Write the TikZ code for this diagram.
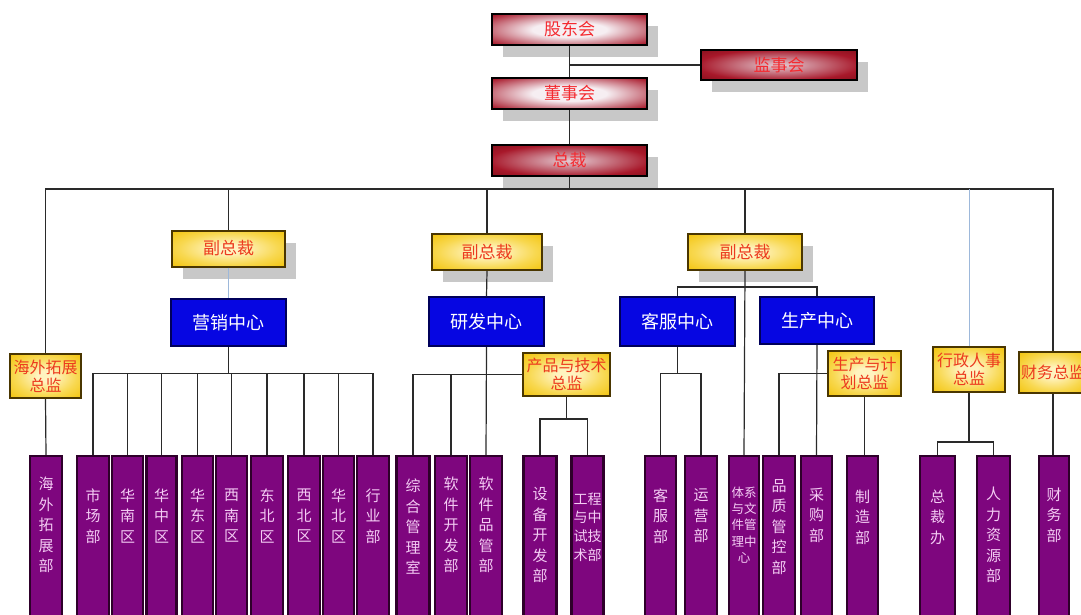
\documentclass[tikz,border=0pt]{standalone}
\usepackage{fontspec}
\newfontfamily\cjk{Noto Sans CJK SC}
\usetikzlibrary{shadows,calc}
\definecolor{dred}{HTML}{6E0A12}
\definecolor{mred}{HTML}{A8182A}
\definecolor{tpale}{HTML}{F6EEF2}
\definecolor{tmid}{HTML}{E4CCD4}
\definecolor{topred}{HTML}{F42A30}
\definecolor{shgray}{HTML}{C8C8C8}
\definecolor{ygold}{HTML}{F2C000}
\definecolor{ymid}{HTML}{F8D850}
\definecolor{ylight}{HTML}{FFF3C0}
\definecolor{ybord}{HTML}{4A3600}
\definecolor{ytxt}{HTML}{EC3A1E}
\definecolor{bfill}{HTML}{0606E2}
\definecolor{bbord}{HTML}{00005A}
\definecolor{pfill}{HTML}{7E067E}
\definecolor{pbord}{HTML}{2E002A}
\definecolor{ptxt}{HTML}{F4CCF4}
\definecolor{linec}{HTML}{2A2A2A}
\definecolor{lblue}{HTML}{9DB8DA}
\pgfdeclareradialshading{topsha}{\pgfpoint{0bp}{0bp}}{color(0bp)=(tpale); color(12bp)=(tpale); color(34bp)=(mred); color(46bp)=(dred); color(75bp)=(dred)}
\pgfdeclareradialshading{topshb}{\pgfpoint{0bp}{0bp}}{color(0bp)=(tmid); color(26bp)=(mred); color(44bp)=(dred); color(75bp)=(dred)}
\pgfdeclareradialshading{yelsh}{\pgfpoint{0bp}{0bp}}{color(0bp)=(ylight); color(6bp)=(ylight); color(22bp)=(ymid); color(38bp)=(ygold); color(75bp)=(ygold)}
\newcommand\purplebox[6][]{%
  \node[pbox, minimum width=#4pt] (#2) at (#3,541) {};
  \node[ptext,#1] (#2t) at (#3,#5) {#6};}
\begin{document}
\begin{tikzpicture}[x=1pt,y=-1pt,
  conn/.style={draw=linec, line width=1.2pt},
  lconn/.style={draw=lblue, line width=1pt},
  shad/.style={drop shadow={shadow xshift=11pt,shadow yshift=-12pt,fill=shgray,opacity=1}},
  topbox/.style={shad, draw=black, line width=2pt, minimum width=155pt, minimum height=31pt,
    inner sep=0pt, shade, shading=#1, text=topred,
    font=\cjk\fontsize{17}{17}\selectfont},
  topbox/.default=topsha,
  vpbox/.style={shad, draw=ybord, line width=2pt, minimum width=113pt, minimum height=36pt,
    inner sep=0pt, shade, shading=yelsh, text=ytxt,
    font=\cjk\fontsize{17}{17}\selectfont},
  dirbox/.style={draw=ybord, line width=2pt, inner sep=0pt, shade, shading=yelsh,
    text=ytxt, align=center, font=\cjk\fontsize{16}{18}\selectfont},
  cbox/.style={draw=bbord, fill=bfill, line width=1.5pt, minimum width=115pt, minimum height=47pt,
    inner sep=0pt, text=white, font=\cjk\fontsize{18}{18}\selectfont},
  pbox/.style={draw=pbord, fill=pfill, line width=2.5pt, minimum height=170pt, inner sep=0pt},
  ptext/.style={text=ptxt, align=center, inner sep=0pt, font=\cjk\fontsize{15}{20.5}\selectfont}
]
\useasboundingbox (0,0) rectangle (1081,614);
\clip (0,0) rectangle (1081,614);
\fill[white] (0,0) rectangle (1081,614);

% top level
\node[topbox] (gd) at (569.5,29.5) {股东会};
\node[topbox=topshb, minimum width=156pt, minimum height=30pt] (js) at (779,65) {监事会};
\node[topbox] (ds) at (569.5,93.5) {董事会};
\node[topbox=topshb] (zc) at (569.5,160.5) {总裁};

% vice presidents
\node[vpbox] (vp1) at (228.5,248.5) {副总裁};
\node[vpbox, minimum width=110pt] (vp2) at (487,252) {副总裁};
\node[vpbox, minimum width=114pt] (vp3) at (745,252) {副总裁};

% centres
\node[cbox] (yx) at (228.5,322.5) {营销中心};
\node[cbox, minimum height=49pt] (yf) at (486.5,321.5) {研发中心};
\node[cbox, minimum height=49pt] (kf) at (677.5,321.5) {客服中心};
\node[cbox, minimum width=114pt] (sc) at (817,320.5) {生产中心};

% directors
\node[dirbox, minimum width=71pt, minimum height=44pt] (hw) at (45.5,376) {海外拓展\\总监};
\node[dirbox, minimum width=87pt, minimum height=43pt] (pt) at (566.5,374.5) {产品与技术\\总监};
\node[dirbox, minimum width=73pt, minimum height=45pt] (sp) at (864.5,373.5) {生产与计\\划总监};
\node[dirbox, minimum width=72pt, minimum height=45pt] (hr) at (969,369.5) {行政人事\\总监};
\node[dirbox, minimum width=68pt, minimum height=41pt] (cw) at (1053,372.5) {财务总监};

% departments
\purplebox{hwb}{46}{32}{525}{海\\外\\拓\\展\\部}
\purplebox{scb}{93}{32}{516}{市\\场\\部}
\purplebox{hn}{127.5}{31}{516}{华\\南\\区}
\purplebox{hz}{161.5}{30}{516}{华\\中\\区}
\purplebox{hd}{197.5}{31}{516}{华\\东\\区}
\purplebox{xn}{231.5}{31}{516}{西\\南\\区}
\purplebox{db}{267}{32}{516}{东\\北\\区}
\purplebox{xb}{304}{32}{516}{西\\北\\区}
\purplebox{hb}{338.5}{31}{516}{华\\北\\区}
\purplebox{hy}{373}{32}{516}{行\\业\\部}
\purplebox{zh}{413}{33}{527}{综\\合\\管\\理\\室}
\purplebox{rk}{451}{32}{525}{软\\件\\开\\发\\部}
\purplebox{rp}{486}{32}{525}{软\\件\\品\\管\\部}
\purplebox{sb}{540}{33}{535}{设\\备\\开\\发\\部}
\purplebox[font=\cjk\fontsize{14}{18.7}\selectfont]{gc}{587.5}{32}{527}{工程\\与中\\试技\\术部}
\purplebox{kfb}{660.5}{31}{516}{客\\服\\部}
\purplebox{yy}{701}{32}{516}{运\\营\\部}
\purplebox[font=\cjk\fontsize{12.5}{16.2}\selectfont]{tx}{744}{30}{525}{体系\\与文\\件管\\理中\\心}
\purplebox{pz}{779}{32}{527}{品\\质\\管\\控\\部}
\purplebox{cg}{816.5}{31}{515}{采\\购\\部}
\purplebox{zz}{862.5}{31}{517}{制\\造\\部}
\purplebox{zcb}{937.5}{35}{517}{总\\裁\\办}
\purplebox{rl}{993.5}{33}{535}{人\\力\\资\\源\\部}
\purplebox{cwb}{1054}{30}{515}{财\\务\\部}

% connectors: top
\draw[conn] (gd.south) -- (ds.north);
\draw[conn] (ds.south) -- (zc.north);
\draw[conn] (gd.south |- js.west) -- (js.west);
\draw[conn] (zc.south) -- ++(0,12) coordinate (bus);
\draw[conn] (hw.north) |- (bus) -| (cw.north);
\draw[conn] (vp1.north) -- (vp1.north |- bus);
\draw[conn] (vp2.north) -- (vp2.north |- bus);
\draw[conn] (vp3.north) -- (vp3.north |- bus);
\draw[lconn] (hr.north) -- (hr.north |- bus);

% vice presidents to centres
\draw[lconn] (vp1.south) -- (yx.north);
\draw[conn] (vp2.south) -- (yf.north);
\coordinate (v3j) at ($(vp3.south)+(0,16)$);
\draw[conn] (kf.north) |- (v3j) -| (sc.north);
\draw[conn] (vp3.south) -- (tx.north);

% marketing
\draw[conn] (yx.south) -- ++(0,27) coordinate (ybus);
\draw[conn] (scb.north) -- (scb.north |- ybus) -- (hy.north |- ybus) -- (hy.north);
\foreach \n in {hn,hz,hd,xn,db,xb,hb}{\draw[conn] (\n.north) -- (\n.north |- ybus);}
\draw[conn] (hw.south) -- (hwb.north);

% R&D
\draw[conn] (yf.south) -- (rp.north);
\draw[conn] (zh.north) |- (pt.west);
\draw[conn] (rk.north) -- (rk.north |- pt.west);
\draw[conn] (pt.south) -- ++(0,22) coordinate (ptb);
\draw[conn] (sb.north) |- (ptb) -| (gc.north);

% customer service
\draw[conn] (kf.south) -- ++(0,27) coordinate (kb);
\draw[conn] (kfb.north) |- (kb) -| (yy.north);

% production
\draw[conn] (sc.south) -- (cg.north);
\draw[conn] (pz.north) |- (sp.west);
\draw[conn] (sp.south) -- (sp.south |- zz.north);

% HR and finance
\draw[conn] (hr.south) -- ++(0,49) coordinate (hrb);
\draw[conn] (zcb.north) |- (hrb) -| (rl.north);
\draw[conn] (cw.south) -- (cw.south |- cwb.north);
\end{tikzpicture}
\end{document}
